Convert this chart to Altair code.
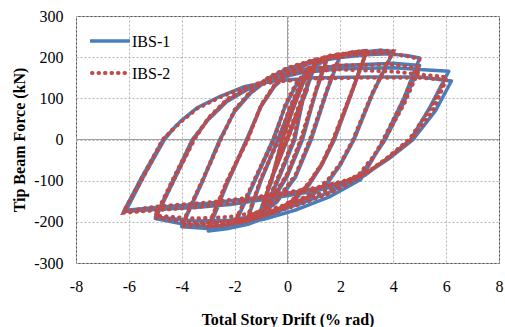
import altair as alt
import pandas as pd

series_names = ["IBS-1", "IBS-2"]
x_ticks = [-8, -6, -4, -2, 0, 2, 4, 6, 8]
y_ticks = [-300, -200, -100, 0, 100, 200, 300]

# IBS-1 hysteresis path (drift %, force kN), cycle by cycle
ibs1_drift = (
    [0, 0.38, -0.38, 0.5, -0.5, 0.75, -0.75]
    + [1.0, 0.6, 0.25, -0.2, -0.6, -1.0, -0.6, -0.2, 0.2, 0.6]
    + [1.0, 0.6, 0.28, -0.2, -0.6, -1.0, -0.6, -0.22, 0.2, 0.6, 1.0]
    + [1.5, 1.1, 0.55, 0.0, -0.6, -1.0, -1.5, -1.0, -0.35, 0.1, 0.6, 1.0]
    + [1.5, 1.1, 0.57, 0.0, -0.6, -1.0, -1.5, -1.0, -0.37, 0.1, 0.6, 1.0, 1.5]
    + [2.0, 1.5, 0.87, 0.3, -0.4, -1.2, -2.0, -1.3, -0.52, -0.1, 0.3, 0.8, 1.4, 2.0]
    + [1.5, 0.9, 0.3, -0.4, -1.2, -2.0, -1.3, -0.55, -0.1, 0.3, 0.8, 1.4, 2.0]
    + [2.5, 3.0, 2.4, 1.75, 1.3, 0.8, 0.2, -0.5, -1.5, -2.3, -3.0, -2.3, -1.53, -1.0, -0.5, 0.0, 0.8, 1.6, 2.5, 3.0]
    + [2.4, 1.78, 1.3, 0.8, 0.2, -0.5, -1.5, -2.3, -3.0, -2.3, -1.55, -1.0, -0.5, 0.0, 0.8, 1.6, 2.5, 3.0]
    + [3.5, 4.0, 3.2, 2.5, 2.0, 1.5, 0.8, 0.0, -1.0, -2.0, -3.0, -4.0, -3.2, -2.54, -2.0, -1.4, -0.7, 0.0, 1.0, 2.0, 3.0, 4.0]
    + [3.2, 2.52, 2.0, 1.5, 0.8, 0.0, -1.0, -2.0, -3.0, -4.0, -3.2, -2.56, -2.0, -1.4, -0.7, 0.0, 1.0, 2.0, 3.0, 3.8]
    + [4.5, 5.0, 4.4, 3.65, 3.2, 2.77, 1.63, 0.37, -0.9, -2.16, -3.0, -4.0, -5.0, -4.3, -3.55, -3.0, -2.3, -1.5, -0.5, 0.5, 2.0, 4.0, 5.0]
    + [4.4, 3.7, 3.2, 2.7, 1.6, 0.4, -0.9, -2.2, -3.5, -5.0, -4.3, -3.6, -3.0, -2.3, -1.5, -0.5, 0.5, 2.0, 4.0, 5.0]
    + [6.1, 5.4, 4.66, 3.7, 2.9, 2.3, 1.0, -0.9, -2.16, -3.5, -5.0, -6.2, -5.5, -4.7, -4.05, -3.42, -2.54, -1.65, -0.5, 1.0, 3.0, 5.0, 6.2]
    + [5.6, 4.75, 3.8, 3.0, 2.3, 1.0, -1.0, -3.0, -5.0, -6.1, -5.4, -4.65, -4.2]
)
ibs1_force = (
    [0, 62, -60, 82, -80, 122, -120]
    + [172, 100, 0, -72, -132, -168, -100, 0, 72, 138]
    + [176, 104, 0, -75, -136, -170, -102, 0, 74, 140, 178]
    + [195, 120, 0, -86, -150, -178, -192, -100, 0, 76, 146, 180]
    + [196, 122, 0, -88, -152, -180, -190, -98, 0, 75, 145, 178, 196]
    + [206, 120, 0, -90, -150, -190, -207, -110, 0, 80, 130, 170, 193, 205]
    + [118, 0, -92, -152, -190, -205, -108, 0, 78, 128, 168, 192, 204]
    + [212, 216, 110, 0, -60, -110, -150, -182, -206, -217, -222, -110, 0, 82, 130, 160, 186, 202, 211, 215]
    + [108, 0, -62, -112, -152, -182, -204, -214, -219, -108, 0, 80, 128, 158, 184, 200, 209, 213]
    + [217, 214, 110, 0, -60, -105, -140, -165, -190, -208, -216, -212, -100, 0, 70, 115, 150, 172, 192, 203, 210, 213]
    + [108, 0, -62, -107, -142, -166, -190, -206, -212, -209, -98, 0, 68, 112, 147, 169, 189, 199, 206, 208]
    + [204, 198, 100, 0, -50, -97, -138, -170, -194, -208, -212, -205, -192, -100, 0, 50, 95, 125, 150, 168, 180, 185, 180]
    + [90, 0, -48, -90, -128, -158, -182, -196, -198, -188, -95, 0, 48, 92, 122, 146, 162, 172, 174, 170]
    + [166, 80, 0, -50, -88, -106, -126, -146, -158, -165, -170, -175, -90, 0, 44, 77, 105, 128, 142, 150, 152, 152, 142]
    + [70, 0, -48, -82, -100, -120, -140, -155, -165, -172, -85, 0, 35]
)

# IBS-2 hysteresis path
ibs2_drift = (
    [0, 0.38, -0.38, 0.5, -0.5, 0.75, -0.75]
    + [1.0, 0.6, 0.22, -0.2, -0.6, -0.95, -0.6, -0.18, 0.2, 0.6]
    + [1.0, 0.6, 0.24, -0.2, -0.6, -0.95, -0.6, -0.2, 0.2, 0.6, 1.0]
    + [1.5, 1.1, 0.5, 0.0, -0.6, -1.0, -1.5, -1.0, -0.32, 0.1, 0.6, 1.0]
    + [1.5, 1.1, 0.52, 0.0, -0.6, -1.0, -1.5, -1.0, -0.34, 0.1, 0.6, 1.0, 1.5]
    + [2.0, 1.5, 0.85, 0.3, -0.4, -1.2, -2.0, -1.3, -0.5, -0.1, 0.3, 0.8, 1.4, 2.0]
    + [1.5, 0.88, 0.3, -0.4, -1.2, -2.0, -1.3, -0.53, -0.1, 0.3, 0.8, 1.4, 2.0]
    + [2.5, 3.0, 2.4, 1.72, 1.3, 0.8, 0.2, -0.5, -1.5, -2.3, -3.0, -2.3, -1.5, -1.0, -0.5, 0.0, 0.8, 1.6, 2.5, 3.0]
    + [2.4, 1.75, 1.3, 0.8, 0.2, -0.5, -1.5, -2.3, -3.0, -2.3, -1.52, -1.0, -0.5, 0.0, 0.8, 1.6, 2.5, 3.0]
    + [3.5, 4.0, 3.2, 2.48, 2.0, 1.5, 0.8, 0.0, -1.0, -2.0, -3.0, -4.0, -3.2, -2.52, -2.0, -1.4, -0.7, 0.0, 1.0, 2.0, 3.0, 4.0]
    + [3.2, 2.5, 2.0, 1.5, 0.8, 0.0, -1.0, -2.0, -3.0, -4.0, -3.2, -2.54, -2.0, -1.4, -0.7, 0.0, 1.0, 2.0, 3.0, 3.8]
    + [4.5, 5.0, 4.4, 3.62, 3.2, 2.77, 1.63, 0.37, -0.9, -2.16, -3.0, -4.0, -5.0, -4.3, -3.52, -3.0, -2.3, -1.5, -0.5, 0.5, 2.0, 4.0, 5.0]
    + [4.4, 3.68, 3.2, 2.7, 1.6, 0.4, -0.9, -2.2, -3.5, -5.0, -4.3, -3.58, -3.0, -2.3, -1.5, -0.5, 0.5, 2.0, 4.0, 5.0]
    + [6.0, 5.4, 4.6, 3.7, 2.9, 2.3, 1.0, -0.9, -2.16, -3.5, -5.0, -6.2, -5.5, -4.72, -4.05, -3.42, -2.54, -1.65, -0.5, 1.0, 3.0, 5.0, 6.0]
    + [5.5, 4.7, 3.8, 3.0, 2.3, 1.0, -1.0, -3.0, -5.0, -6.2, -5.4, -4.7, -4.3]
)
ibs2_force = (
    [0, 65, -58, 85, -78, 125, -118]
    + [178, 105, 0, -68, -128, -160, -95, 0, 75, 142]
    + [180, 106, 0, -70, -130, -162, -96, 0, 76, 143, 182]
    + [200, 125, 0, -82, -145, -172, -188, -95, 0, 80, 150, 184]
    + [200, 124, 0, -84, -147, -174, -186, -94, 0, 79, 149, 182, 199]
    + [208, 122, 0, -86, -146, -185, -202, -105, 0, 82, 134, 174, 197, 208]
    + [120, 0, -88, -148, -186, -200, -104, 0, 80, 132, 172, 195, 206]
    + [213, 215, 112, 0, -58, -106, -146, -176, -198, -208, -212, -104, 0, 84, 132, 162, 188, 204, 212, 215]
    + [110, 0, -60, -108, -148, -177, -197, -206, -210, -102, 0, 82, 130, 160, 186, 202, 210, 213]
    + [216, 215, 112, 0, -58, -100, -135, -160, -184, -200, -208, -210, -98, 0, 72, 117, 152, 174, 194, 205, 211, 214]
    + [110, 0, -60, -102, -137, -162, -184, -198, -205, -207, -96, 0, 70, 114, 149, 171, 191, 201, 208, 210]
    + [203, 195, 98, 0, -48, -92, -130, -160, -184, -198, -203, -200, -190, -98, 0, 52, 97, 127, 152, 170, 180, 182, 172]
    + [85, 0, -45, -85, -122, -150, -174, -188, -192, -185, -92, 0, 50, 94, 124, 148, 164, 170, 165, 158]
    + [152, 75, 0, -48, -85, -102, -122, -142, -155, -165, -172, -178, -92, 0, 42, 75, 103, 126, 140, 148, 150, 150, 145]
    + [70, 0, -46, -80, -98, -118, -138, -153, -163, -175, -85, 0, 28]
)

assert len(ibs1_drift) == len(ibs1_force)
assert len(ibs2_drift) == len(ibs2_force)


def frame(name, d, f):
    return pd.DataFrame({"drift": d, "force": f, "step": list(range(len(d))), "series": name})


df1 = frame(series_names[0], ibs1_drift, ibs1_force)
df2 = frame(series_names[1], ibs2_drift, ibs2_force)

BLUE = "#4A7EBB"
RED = "#BE4B48"
FONT = "Liberation Serif"

x_scale = alt.Scale(domain=[-8, 8], nice=False, zero=False)
y_scale = alt.Scale(domain=[-300, 300], nice=False, zero=False)

x_axis = alt.Axis(
    values=x_ticks, title="Total Story Drift (% rad)", grid=True, gridDash=[2, 2],
    gridColor="#b5b5b5", domain=False, ticks=False, labelPadding=15,
    labelExpr="'' + datum.value",
    labelFont=FONT, labelFontSize=16, labelColor="#000", labelFontWeight="normal",
    titleFont=FONT, titleFontSize=16, titleFontWeight="bold", titleColor="#000",
    titlePadding=17, labelFlush=False,
)
y_axis = alt.Axis(
    values=y_ticks, title="Tip Beam Force (kN)", grid=True, gridDash=[2, 2],
    gridColor="#b5b5b5", domain=False, ticks=False, labelPadding=13,
    labelExpr="'' + datum.value",
    labelFont=FONT, labelFontSize=16, labelColor="#000", labelFontWeight="normal",
    titleFont=FONT, titleFontSize=16, titleFontWeight="bold", titleColor="#000",
    titlePadding=6, labelFlush=False,
)

line1 = alt.Chart(df1).mark_line(color=BLUE, strokeWidth=3.5, strokeJoin="round", strokeCap="round").encode(
    x=alt.X("drift:Q", scale=x_scale, axis=x_axis),
    y=alt.Y("force:Q", scale=y_scale, axis=y_axis),
    order="step:Q",
)
line2 = alt.Chart(df2).mark_line(color=RED, strokeWidth=4, strokeDash=[0.5, 6], strokeCap="round").encode(
    x=alt.X("drift:Q", scale=x_scale),
    y=alt.Y("force:Q", scale=y_scale),
    order="step:Q",
)

zero_df = pd.DataFrame({"v": [0]})
zero_x = alt.Chart(zero_df).mark_rule(color="#a0a0a0", strokeWidth=1).encode(x=alt.X("v:Q", scale=x_scale))
zero_y = alt.Chart(zero_df).mark_rule(color="#a0a0a0", strokeWidth=1).encode(y=alt.Y("v:Q", scale=y_scale))

leg1_df = pd.DataFrame({"label": [series_names[0]]})
leg2_df = pd.DataFrame({"label": [series_names[1]]})
leg1_line = alt.Chart(leg1_df).mark_rule(color=BLUE, strokeWidth=3.5).encode(
    x=alt.value(14), x2=alt.value(54), y=alt.value(25))
leg2_line = alt.Chart(leg2_df).mark_rule(color=RED, strokeWidth=4, strokeDash=[0.5, 6], strokeCap="round").encode(
    x=alt.value(16), x2=alt.value(52), y=alt.value(57))
leg1_text = alt.Chart(leg1_df).mark_text(font=FONT, fontSize=16, fontWeight="normal", align="left", baseline="middle", color="#000").encode(
    x=alt.value(56), y=alt.value(26), text="label:N")
leg2_text = alt.Chart(leg2_df).mark_text(font=FONT, fontSize=16, fontWeight="normal", align="left", baseline="middle", color="#000").encode(
    x=alt.value(56), y=alt.value(58), text="label:N")

chart = alt.layer(
    zero_x, zero_y, line1, line2, leg1_line, leg2_line, leg1_text, leg2_text
).properties(
    width=423, height=247,
    autosize=alt.AutoSizeParams(type="none"),
    padding={"left": 76, "top": 16, "right": 6, "bottom": 64},
    background="#ffffff",
).configure_view(stroke="#555555", strokeWidth=1)

chart.save("out.html", embed_options={"renderer": "svg", "actions": False})
